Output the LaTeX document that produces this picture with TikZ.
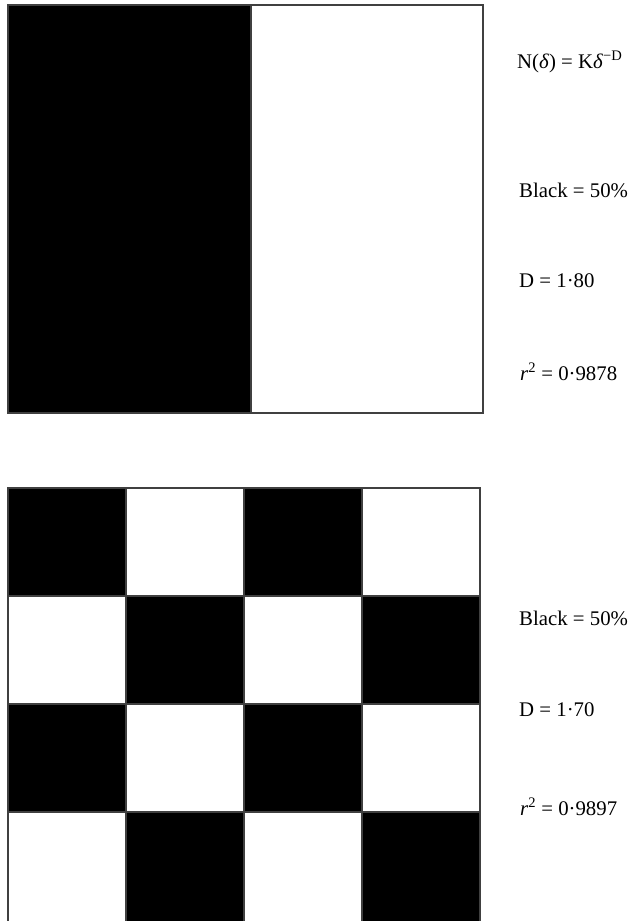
\documentclass[tikz,border=0pt]{standalone}
\usepackage{fontspec}
\setmainfont{Liberation Serif}
\begin{document}
\begin{tikzpicture}[x=1pt,y=-1pt,
  cellb/.style={fill=black,draw=black!75,line width=1.2pt},
  cellw/.style={fill=white,draw=black!75,line width=1.2pt},
  lbl/.style={anchor=west,inner sep=0pt,font=\fontsize{20.8}{24}\selectfont}]
\useasboundingbox[fill=white] (0,0) rectangle (631,921);
\clip (0,0) rectangle (631,921);
% top square
\draw[cellw] (8,5) rectangle (483,413);
\draw[cellb] (8,5) rectangle (251,413);
% checkerboard (bottom row runs past the lower edge)
\foreach \r in {0,1,2,3}{
  \foreach \c in {0,1,2,3}{
    \pgfmathtruncatemacro{\myparity}{mod(\r+\c,2)}
    \pgfmathsetmacro{\ybot}{\r==3 ? 930 : 488+108*(\r+1)}
    \ifnum\myparity=0
      \draw[cellb] ({8+118*\c},{488+108*\r}) rectangle ({8+118*(\c+1)},\ybot);
    \else
      \draw[cellw] ({8+118*\c},{488+108*\r}) rectangle ({8+118*(\c+1)},\ybot);
    \fi
  }
}
% labels
\node[lbl] (eq) at (517,62) {N(\textit{δ}) = K\textit{δ}\textsuperscript{−D}};
\node[lbl] (b1) at (519,190) {Black = 50\%};
\node[lbl] (d1) at (519,281) {D = 1·80};
\node[lbl] (r1) at (520,372) {\textit{r}\textsuperscript{2} = 0·9878};
\node[lbl] (b2) at (519,618) {Black = 50\%};
\node[lbl] (d2) at (519,710) {D = 1·70};
\node[lbl] (r2) at (520,807) {\textit{r}\textsuperscript{2} = 0·9897};
\end{tikzpicture}
\end{document}
